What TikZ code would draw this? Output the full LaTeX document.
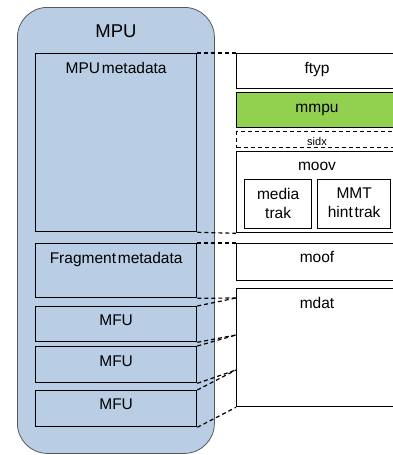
\documentclass[tikz,border=0pt]{standalone}
\usepackage{fontspec}
\setmainfont{Liberation Sans}
\usetikzlibrary{calc}
\definecolor{mpublue}{RGB}{185,205,229}
\definecolor{mmpugreen}{RGB}{146,208,80}
\newcommand{\tsp}{\hspace{1.8pt}}
\begin{document}
\begin{tikzpicture}[x=1pt,y=-1pt,
  box/.style={draw=black, line width=1.3pt, inner sep=0pt, anchor=north west},
  conn/.style={draw=black, line width=1.2pt, dash pattern=on 4pt off 3pt},
  lbl/.style={inner sep=0pt, font=\fontsize{15.5}{19}\selectfont, align=center},
  small/.style={inner sep=0pt, font=\fontsize{11}{13}\selectfont}]
\useasboundingbox (0,0) rectangle (393,455);
\clip (0,0) rectangle (393,455);
% MPU container
\node[draw=black!65, line width=0.8pt, fill=mpublue, rounded corners=30pt,
      minimum width=197pt, minimum height=446pt, anchor=north west, inner sep=0pt] (mpu) at (17,7) {};
\node[inner sep=0pt, font=\fontsize{18.5}{22}\selectfont, anchor=base] at ($(mpu.north)+(0,30)$) {MPU};
% left boxes
\node[box, minimum width=161pt, minimum height=178pt] (mpumeta) at (35,53) {};
\node[box, minimum width=161pt, minimum height=54pt] (fragmeta) at (35,243) {};
\node[box, minimum width=161pt, minimum height=35pt] (mfu1) at (35,306) {};
\node[box, minimum width=161pt, minimum height=36pt] (mfu2) at (35,346) {};
\node[box, minimum width=161pt, minimum height=36pt] (mfu3) at (35,390) {};
\node[lbl, anchor=base] at ($(mpumeta.north)+(0,20)$) {MPU\tsp metadata};
\node[lbl, anchor=base] at ($(fragmeta.north)+(0,20)$) {Fragment\tsp metadata};
\node[lbl, anchor=base] at ($(mfu1.north)+(0,19)$) {MFU};
\node[lbl, anchor=base] at ($(mfu2.north)+(0,20)$) {MFU};
\node[lbl, anchor=base] at ($(mfu3.north)+(0,19)$) {MFU};
% right boxes
\node[box, minimum width=164pt, minimum height=35pt] (ftyp) at (236,53) {};
\node[box, fill=mmpugreen, minimum width=164pt, minimum height=35pt] (mmpu) at (236,92) {};
\node[box, dash pattern=on 4pt off 3pt, minimum width=164pt, minimum height=16pt] (sidx) at (236,131) {};
\node[box, minimum width=164pt, minimum height=81pt] (moov) at (236,151) {};
\node[box, minimum width=67pt, minimum height=49pt] (media) at (244,179) {};
\node[box, minimum width=73pt, minimum height=49pt] (hint) at (317,179) {};
\node[box, minimum width=164pt, minimum height=37pt] (moof) at (236,243) {};
\node[box, minimum width=164pt, minimum height=118pt] (mdat) at (236,288) {};
\node[lbl, anchor=base] at ($(ftyp.north west)+(81,20)$) {ftyp};
\node[lbl, anchor=base] at ($(mmpu.north west)+(81,20)$) {mmpu};
\node[small, anchor=base] at ($(sidx.north west)+(81,14)$) {sidx};
\node[lbl, anchor=base] at ($(moov.north west)+(81,19)$) {moov};
\node[lbl, anchor=north] at ($(media.north)+(0,9)$) {media\\trak};
\node[lbl, anchor=north] at ($(hint.north)+(0,9)$) {MMT\\hint\tsp trak};
\node[lbl, anchor=base] at ($(moof.north west)+(81,19)$) {moof};
\node[lbl, anchor=base] at ($(mdat.north west)+(81,20)$) {mdat};
% connector end points on mdat
\coordinate (d1) at ($(mdat.north west)+(0,10)$);
\coordinate (d2) at ($(mdat.north west)+(0,47)$);
\coordinate (d3) at ($(mdat.north west)+(0,82)$);
% connectors
\draw[conn] (mpumeta.north east) -- (ftyp.north west);
\draw[conn] (mpumeta.south east) -- (moov.south west);
\draw[conn] (fragmeta.north east) -- (moof.north west);
\draw[conn] (fragmeta.south east) -- (d1);
\draw[conn] (mfu1.north east) -- (d1);
\draw[conn] (mfu1.south east) -- (d2);
\draw[conn] (mfu2.north east) -- (d2);
\draw[conn] (mfu2.south east) -- (d3);
\draw[conn] (mfu3.north east) -- (d3);
\draw[conn] (mfu3.south east) -- (mdat.south west);
\end{tikzpicture}
\end{document}
